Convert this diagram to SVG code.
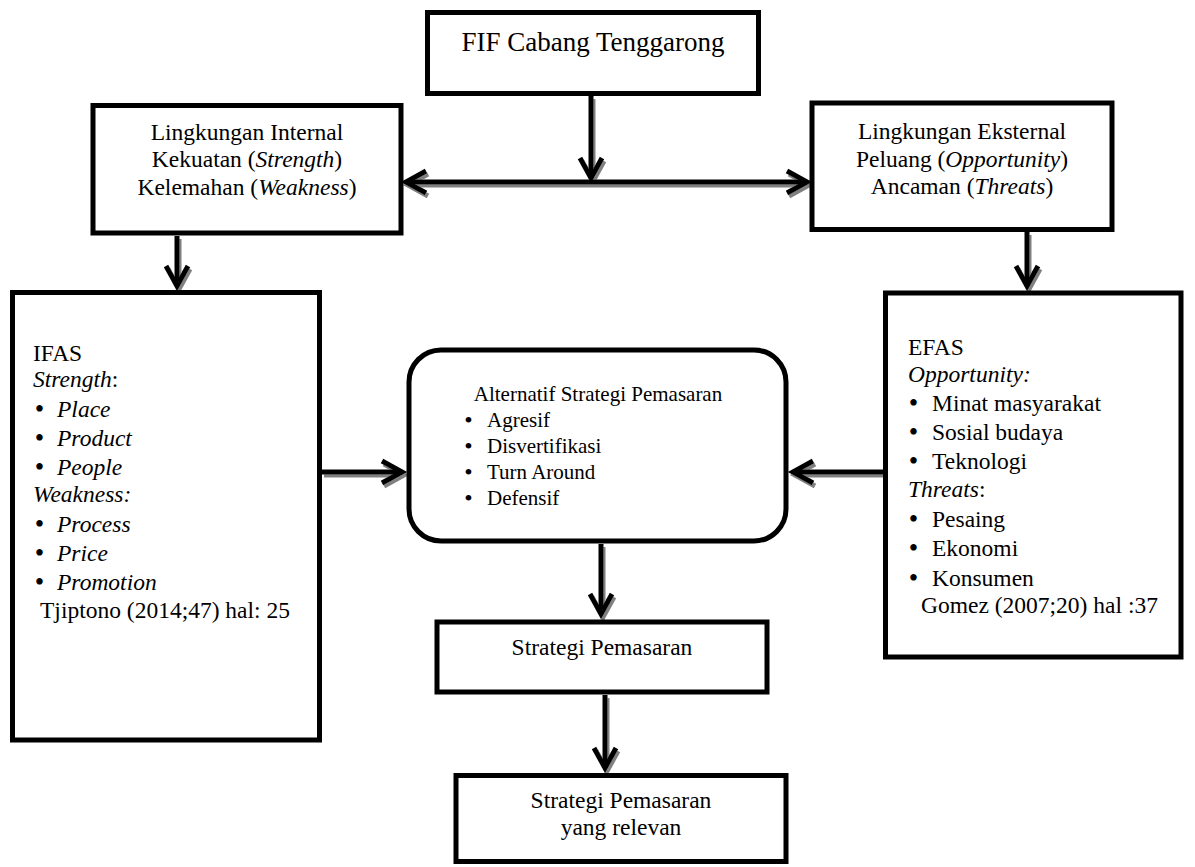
<svg xmlns="http://www.w3.org/2000/svg" width="1195" height="867" viewBox="0 0 1195 867">
<defs>
<style>
.box{fill:#fff;stroke:#000;stroke-width:5}
.conn{fill:none;stroke:#000;stroke-width:5}
.t{font-family:'Liberation Serif',serif;font-size:23.5px;fill:#000}
.s{font-size:21px}
.c{text-anchor:middle}
.i{font-style:italic}
.bl{font-size:27px;text-anchor:middle}
.bs{font-size:24px;text-anchor:middle}
</style>
<marker id="ah" markerUnits="userSpaceOnUse" orient="auto-start-reverse" viewBox="-30 -20 40 40" markerWidth="40" markerHeight="40" refX="0" refY="0">
<path d="M-20,-11 L0,0 L-20,11" fill="none" stroke="#000" stroke-width="5"/>
</marker>
<filter id="sh" filterUnits="userSpaceOnUse" x="0" y="0" width="1195" height="867">
<feDropShadow dx="2" dy="3" stdDeviation="0.7" flood-color="#808080" flood-opacity="1"/>
</filter>
</defs>
<rect width="1195" height="867" fill="#fff"/>

<g id="connectors" filter="url(#sh)">
<path class="conn" d="M591,96 L591,178" marker-end="url(#ah)"/>
<path class="conn" d="M406,182 L807,182" marker-start="url(#ah)" marker-end="url(#ah)"/>
<path class="conn" d="M177,236 L177,286" marker-end="url(#ah)"/>
<path class="conn" d="M1027,232 L1027,286" marker-end="url(#ah)"/>
<path class="conn" d="M322,472 L402,472" marker-end="url(#ah)"/>
<path class="conn" d="M883,472 L793,472" marker-end="url(#ah)"/>
<path class="conn" d="M601,544 L601,614" marker-end="url(#ah)"/>
<path class="conn" d="M605,695 L605,768" marker-end="url(#ah)"/>
</g>

<g id="node-fif">
<rect class="box" x="427.5" y="12.5" width="331" height="81"/>
<text class="t c" x="593" y="51" style="font-size:27px">FIF Cabang Tenggarong</text>
</g>

<g id="node-internal">
<rect class="box" x="93" y="105.5" width="308" height="127.5"/>
<text class="t c" x="247" y="140">Lingkungan Internal</text>
<text class="t c" x="247" y="167">Kekuatan (<tspan class="i">Strength</tspan>)</text>
<text class="t c" x="247" y="195">Kelemahan (<tspan class="i">Weakness</tspan>)</text>
</g>

<g id="node-external">
<rect class="box" x="812" y="103" width="300" height="126.5"/>
<text class="t c" x="962" y="139">Lingkungan Eksternal</text>
<text class="t c" x="962" y="167">Peluang (<tspan class="i">Opportunity</tspan>)</text>
<text class="t c" x="962" y="194">Ancaman (<tspan class="i">Threats</tspan>)</text>
</g>

<g id="node-ifas">
<rect class="box" x="12.5" y="292.5" width="307" height="447.5"/>
<text class="t" x="33" y="361">IFAS</text>
<text class="t" x="33" y="387"><tspan class="i">Strength</tspan>:</text>
<text class="t bl" x="39.5" y="418">•</text><text class="t i" x="57" y="417">Place</text>
<text class="t bl" x="39.5" y="447">•</text><text class="t i" x="57" y="446">Product</text>
<text class="t bl" x="39.5" y="476">•</text><text class="t i" x="57" y="475">People</text>
<text class="t i" x="33" y="502">Weakness:</text>
<text class="t bl" x="39.5" y="533">•</text><text class="t i" x="57" y="532">Process</text>
<text class="t bl" x="39.5" y="562">•</text><text class="t i" x="57" y="561">Price</text>
<text class="t bl" x="39.5" y="591">•</text><text class="t i" x="57" y="590">Promotion</text>
<text class="t" x="40" y="618">Tjiptono (2014;47) hal: 25</text>
</g>

<g id="node-efas">
<rect class="box" x="885.5" y="293" width="295.5" height="364"/>
<text class="t" x="908" y="355">EFAS</text>
<text class="t i" x="908" y="382">Opportunity:</text>
<text class="t bl" x="913.5" y="412">•</text><text class="t" x="932" y="411">Minat masyarakat</text>
<text class="t bl" x="913.5" y="441">•</text><text class="t" x="932" y="440">Sosial budaya</text>
<text class="t bl" x="913.5" y="470">•</text><text class="t" x="932" y="469">Teknologi</text>
<text class="t" x="908" y="497"><tspan class="i">Threats</tspan>:</text>
<text class="t bl" x="913.5" y="528">•</text><text class="t" x="932" y="527">Pesaing</text>
<text class="t bl" x="913.5" y="557">•</text><text class="t" x="932" y="556">Ekonomi</text>
<text class="t bl" x="913.5" y="587">•</text><text class="t" x="932" y="586">Konsumen</text>
<text class="t" x="921" y="613">Gomez (2007;20) hal :37</text>
</g>

<g id="node-alternatif">
<rect class="box" x="409" y="350" width="377" height="191" rx="32" ry="32"/>
<text class="t s c" x="598" y="401">Alternatif Strategi Pemasaran</text>
<text class="t bs" x="468.5" y="428">•</text><text class="t s" x="487" y="427">Agresif</text>
<text class="t bs" x="468.5" y="454">•</text><text class="t s" x="487" y="453">Disvertifikasi</text>
<text class="t bs" x="468.5" y="480">•</text><text class="t s" x="487" y="479">Turn Around</text>
<text class="t bs" x="468.5" y="506">•</text><text class="t s" x="487" y="505">Defensif</text>
</g>

<g id="node-strategi">
<rect class="box" x="437" y="622" width="330" height="70"/>
<text class="t c" x="602" y="655">Strategi Pemasaran</text>
</g>

<g id="node-relevan">
<rect class="box" x="456" y="775.5" width="330" height="86"/>
<text class="t c" x="621" y="808">Strategi Pemasaran</text>
<text class="t c" x="621" y="835">yang relevan</text>
</g>
</svg>
